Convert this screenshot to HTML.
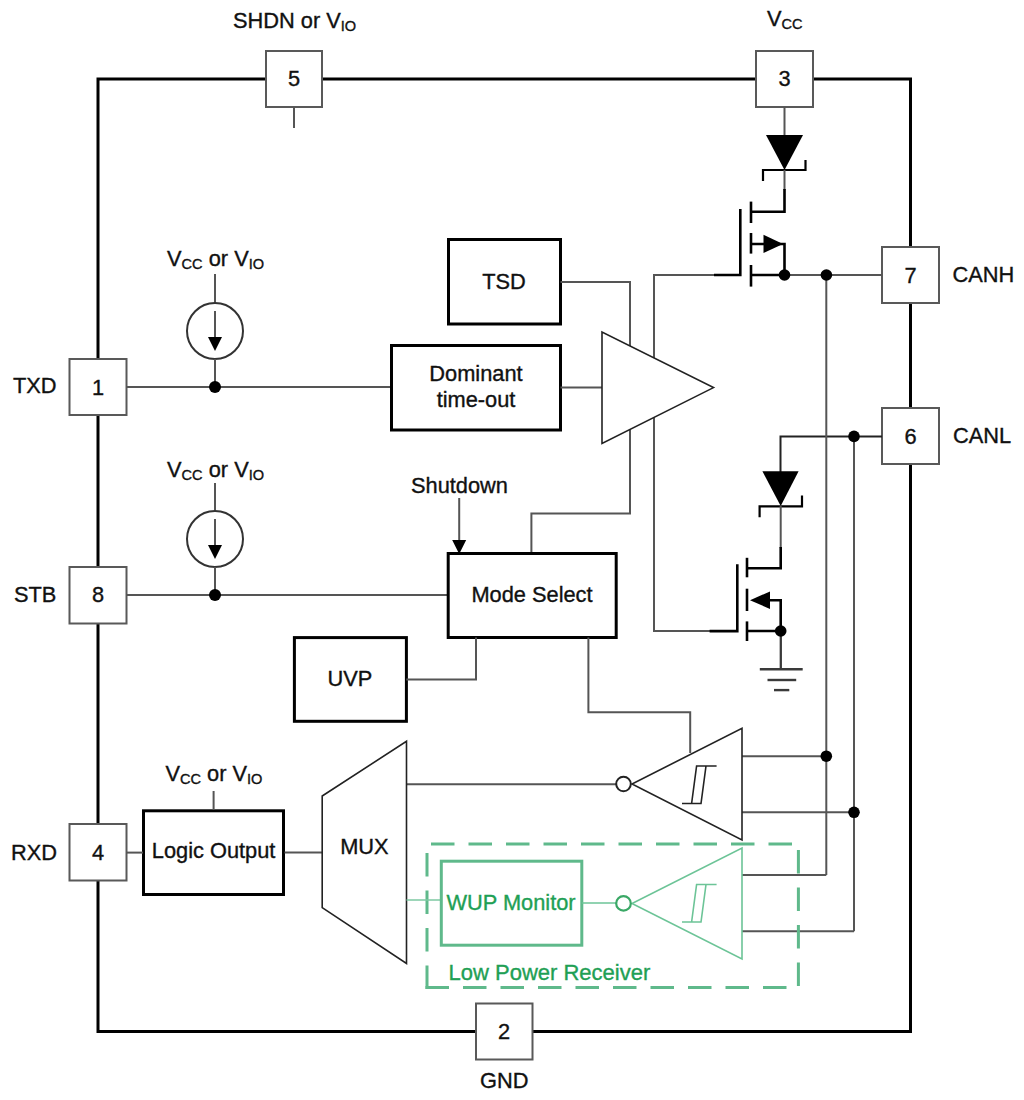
<!DOCTYPE html>
<html><head><meta charset="utf-8"><style>
html,body{margin:0;padding:0;background:#fff;width:1024px;height:1100px;overflow:hidden}
svg{display:block}
text{font-family:"Liberation Sans",sans-serif;font-size:21.8px;fill:#111;stroke:#111;stroke-width:0.35px}
.sub{font-size:14.6px}
.ob{stroke:#000;stroke-width:3;fill:none}
.pin{stroke:#595959;stroke-width:2;fill:#fff}
.w{stroke:#555;stroke-width:2;fill:none}
.bk{stroke:#000;stroke-width:3;fill:#fff}
.mk{stroke:#000;stroke-width:2.6;fill:none}
.tri{stroke:#222;stroke-width:1.6;fill:#fff}
.g{stroke:#5fb98b;stroke-width:3;fill:none}
.gt{fill:#1fa055;stroke:#1fa055}
.gw{stroke:#6cc497;stroke-width:1.6;fill:#fff}
</style></head><body>
<svg width="1024" height="1100" viewBox="0 0 1024 1100">
<!-- outer box -->
<rect class="ob" x="98" y="79" width="812.5" height="952.5"/>

<!-- pins -->
<rect class="pin" x="266" y="51" width="56" height="56"/>
<line class="w" x1="294" y1="107" x2="294" y2="128"/>
<rect class="pin" x="756" y="51" width="57" height="56"/>
<rect class="pin" x="882" y="247" width="57" height="56"/>
<rect class="pin" x="882" y="408" width="57" height="56"/>
<rect class="pin" x="69.5" y="359" width="57" height="56"/>
<rect class="pin" x="69.5" y="567" width="57" height="56.5"/>
<rect class="pin" x="69.5" y="824" width="57" height="56.5"/>
<rect class="pin" x="476" y="1003.5" width="56.5" height="56"/>

<text x="294" y="86" text-anchor="middle">5</text>
<text x="784.5" y="86" text-anchor="middle">3</text>
<text x="910.5" y="283" text-anchor="middle">7</text>
<text x="910.5" y="444" text-anchor="middle">6</text>
<text x="98" y="395" text-anchor="middle">1</text>
<text x="98" y="602" text-anchor="middle">8</text>
<text x="98" y="860" text-anchor="middle">4</text>
<text x="504" y="1039" text-anchor="middle">2</text>

<text x="233" y="28">SHDN or V<tspan class="sub" dy="3">IO</tspan></text>
<text x="767" y="26">V<tspan class="sub" dy="3">CC</tspan></text>
<text x="952.5" y="281.5">CANH</text>
<text x="953" y="443">CANL</text>
<text x="13" y="393">TXD</text>
<text x="14" y="601.7">STB</text>
<text x="11" y="860">RXD</text>
<text x="480" y="1088">GND</text>

<!-- current sources -->
<g id="cs1">
<text x="167" y="266">V<tspan class="sub" dy="3">CC</tspan><tspan dy="-3"> or V</tspan><tspan class="sub" dy="3">IO</tspan></text>
<line class="w" x1="215" y1="274" x2="215" y2="303"/>
<circle class="w" cx="215" cy="331" r="28" style="stroke:#333"/>
<line class="w" x1="215" y1="359" x2="215" y2="387"/>
<line class="w" x1="215" y1="311" x2="215" y2="340"/>
<path d="M208 337 L222 337 L215 351 Z" fill="#000"/>
</g>
<g id="cs2">
<text x="167" y="476.6">V<tspan class="sub" dy="3">CC</tspan><tspan dy="-3"> or V</tspan><tspan class="sub" dy="3">IO</tspan></text>
<line class="w" x1="215" y1="483" x2="215" y2="511"/>
<circle class="w" cx="215" cy="539" r="28" style="stroke:#333"/>
<line class="w" x1="215" y1="567" x2="215" y2="595"/>
<line class="w" x1="215" y1="519" x2="215" y2="548"/>
<path d="M208 545 L222 545 L215 559 Z" fill="#000"/>
</g>

<!-- TXD wire -->
<line class="w" x1="126.5" y1="387" x2="391.5" y2="387"/>
<!-- STB wire -->
<line class="w" x1="126.5" y1="595" x2="448" y2="595"/>

<!-- TSD -->
<rect class="bk" x="448.5" y="239.5" width="112" height="84.5"/>
<text x="504" y="289" text-anchor="middle">TSD</text>
<!-- Dominant -->
<rect class="bk" x="391.5" y="345.5" width="169" height="84.5"/>
<text x="476" y="381" text-anchor="middle">Dominant</text>
<text x="476" y="407" text-anchor="middle">time-out</text>
<line class="w" x1="560.5" y1="387.5" x2="602" y2="387.5"/>
<!-- wires around driver -->
<polyline class="w" points="560.5,282 630,282 630,513.6 531.4,513.6 531.4,553.5"/>
<polyline class="w" points="714,275 654,275 654,631 710,631"/>
<!-- driver triangle -->
<polygon class="tri" points="602,332 602,443.5 713.5,387.6"/>

<!-- upper MOSFET / diode -->
<line class="w" x1="784.5" y1="107" x2="784.5" y2="136"/>
<path d="M766 135 L803 135 L784.5 170 Z" fill="#000"/>
<polyline class="mk" points="763,181 763,170 805.5,170 805.5,160" style="stroke-width:2.2"/>
<line class="w" x1="784.5" y1="170" x2="784.5" y2="190"/>
<polyline class="mk" points="784.5,189 784.5,211.7 751,211.7"/>
<line class="mk" x1="751" y1="201.6" x2="751" y2="223"/>
<line class="mk" x1="751" y1="233" x2="751" y2="253.6"/>
<line class="mk" x1="751" y1="265" x2="751" y2="286.6"/>
<polyline class="mk" points="740.3,209 740.3,275 714,275"/>
<polyline class="mk" points="751,244 784.5,244 784.5,275 751,275"/>
<path d="M763.5 234.8 L783 244 L763.5 253 Z" fill="#000"/>
<line class="w" x1="784.5" y1="275" x2="882" y2="275"/>

<!-- lower MOSFET / diode -->
<polyline class="w" points="882,436.4 780.5,436.4 780.5,472" style="stroke:#222"/>
<path d="M762.4 471.3 L798.6 471.3 L780.7 506 Z" fill="#000"/>
<polyline class="mk" points="759.6,517.3 759.6,506.3 802,506.3 802,495.4" style="stroke-width:2.2"/>
<line class="w" x1="780.7" y1="505.6" x2="780.7" y2="548"/>
<polyline class="mk" points="780.7,547 780.7,568.2 747,568.2"/>
<line class="mk" x1="747" y1="557.8" x2="747" y2="577.3"/>
<line class="mk" x1="747" y1="588.7" x2="747" y2="611"/>
<line class="mk" x1="747" y1="621.4" x2="747" y2="641"/>
<polyline class="mk" points="737.3,564.3 737.3,631.1 709.6,631.1"/>
<polyline class="mk" points="770,600.2 780.7,600.2 780.7,631 747,631"/>
<path d="M750 600.2 L770 591.5 L770 609 Z" fill="#000"/>
<line class="w" x1="780.8" y1="631" x2="780.8" y2="669.2" style="stroke:#3a3a3a;stroke-width:2.3"/>
<g stroke="#3a3a3a" stroke-width="2.4"><line x1="759.8" y1="669.2" x2="802.7" y2="669.2"/><line x1="767.5" y1="680" x2="796.2" y2="680"/><line x1="774" y1="690.1" x2="789.3" y2="690.1"/></g>

<!-- right vertical wires -->
<line class="w" x1="826.3" y1="275" x2="826.3" y2="875.1"/>
<line class="w" x1="854" y1="436.4" x2="854" y2="931.2"/>
<line class="w" x1="742" y1="756.2" x2="826.3" y2="756.2"/>
<line class="w" x1="742" y1="812.3" x2="854" y2="812.3"/>
<line class="w" x1="742" y1="875.1" x2="826.3" y2="875.1"/>
<line class="w" x1="742" y1="931.2" x2="854" y2="931.2"/>

<!-- Mode select -->
<rect class="bk" x="448.2" y="553.5" width="168" height="84"/>
<text x="532" y="601.5" text-anchor="middle">Mode Select</text>
<text x="411" y="493">Shutdown</text>
<line class="w" x1="459.2" y1="498" x2="459.2" y2="541"/>
<path d="M452.2 540 L466.2 540 L459.2 554 Z" fill="#000"/>
<!-- UVP -->
<rect class="bk" x="294.4" y="637.6" width="112" height="83.7"/>
<text x="350" y="686" text-anchor="middle">UVP</text>
<polyline class="w" points="406.3,679.4 476,679.4 476,637.6"/>
<polyline class="w" points="588.4,637.6 588.4,712.3 690.2,712.3 690.2,753"/>

<!-- receiver 1 -->
<line class="w" x1="406.5" y1="784.2" x2="616" y2="784.2"/>
<polygon class="tri" points="742,728.3 742,840 632,784"/>
<circle cx="623.5" cy="784" r="7.3" fill="#fff" stroke="#222" stroke-width="2"/>
<path class="tri" fill="none" d="M682 803.5 L701 803.5 L706 766 M691.6 803.5 L696.6 766 L716.6 766"/>

<!-- Logic Output -->
<rect class="bk" x="143.5" y="810.8" width="140" height="83.7"/>
<text x="213.6" y="858" text-anchor="middle">Logic Output</text>
<text x="165.4" y="780.8">V<tspan class="sub" dy="3">CC</tspan><tspan dy="-3"> or V</tspan><tspan class="sub" dy="3">IO</tspan></text>
<line class="w" x1="213.6" y1="791" x2="213.6" y2="810"/>
<line class="w" x1="126.5" y1="852.6" x2="143" y2="852.6"/>
<line class="w" x1="284.5" y1="852.6" x2="322.2" y2="852.6"/>
<!-- MUX -->
<polygon class="tri" points="322.2,796 406.5,741.3 406.5,963.5 322.2,907.6"/>
<text x="364.4" y="854" text-anchor="middle">MUX</text>

<!-- green low power receiver -->
<line class="g" x1="431" y1="844" x2="799" y2="844" stroke-dasharray="23.5 14"/>
<line class="g" x1="798.4" y1="850" x2="798.4" y2="987" stroke-dasharray="23.5 14"/>
<line class="g" x1="427" y1="853" x2="427" y2="989" stroke-dasharray="23.5 14"/>
<line class="g" x1="425.5" y1="987.5" x2="799" y2="987.5" stroke-dasharray="23.5 14"/>
<line class="gw" x1="406.5" y1="900" x2="441" y2="900" style="stroke:#7cc9a2"/>
<rect class="g" x="441.3" y="861.2" width="140.5" height="84"/>
<text class="gt" x="511" y="910" text-anchor="middle">WUP Monitor</text>
<line class="gw" x1="581.8" y1="903" x2="616" y2="903"/>
<polygon class="gw" points="742,848 742,959 632,903.5"/>
<circle cx="623.5" cy="903.4" r="7.3" fill="#fff" stroke="#3aa866" stroke-width="2.2"/>
<path class="gw" fill="none" d="M682 922 L701 922 L706 884.5 M691.6 922 L696.6 884.5 L716.6 884.5"/>
<text class="gt" x="448.5" y="979.7" style="font-size:22px">Low Power Receiver</text>
<!-- dots -->
<circle cx="215" cy="387" r="6" fill="#000"/>
<circle cx="215" cy="595" r="6" fill="#000"/>
<circle cx="784.5" cy="275" r="5.8" fill="#000"/>
<circle cx="826.4" cy="275" r="5.8" fill="#000"/>
<circle cx="854" cy="436.4" r="5.8" fill="#000"/>
<circle cx="780.7" cy="631" r="5.8" fill="#000"/>
<circle cx="826.3" cy="756.2" r="5.8" fill="#000"/>
<circle cx="854" cy="812.3" r="5.8" fill="#000"/>
</svg>
</body></html>
